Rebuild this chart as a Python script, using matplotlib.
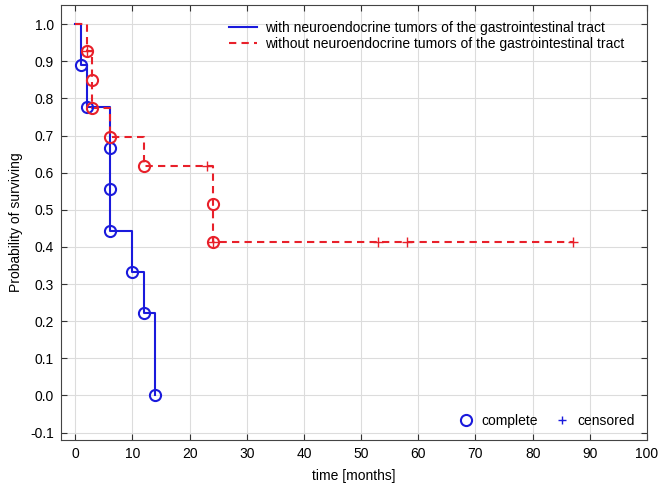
import numpy as np
import matplotlib.pyplot as plt
from matplotlib.lines import Line2D

plt.rcParams['font.family'] = ['Liberation Sans', 'DejaVu Sans']
plt.rcParams['font.size'] = 10

# step curves (Kaplan-Meier)
with_t = [0, 1, 2, 6, 10, 12, 14]
with_s = [1.0, 0.889, 0.778, 0.444, 0.333, 0.222, 0.0]
without_t = [0, 2, 3, 6, 12, 24, 87]
without_s = [1.0, 0.929, 0.774, 0.697, 0.619, 0.413, 0.413]

# complete (event) points
with_ev_t = [1, 2, 6, 6, 6, 10, 12, 14]
with_ev_s = [0.889, 0.778, 0.667, 0.556, 0.444, 0.333, 0.222, 0.0]
without_ev_t = [2, 3, 3, 6, 12, 24, 24]
without_ev_s = [0.929, 0.851, 0.774, 0.697, 0.619, 0.516, 0.413]

# censored points
without_c_t = [2, 23, 24, 53, 58, 87]
without_c_s = [0.929, 0.619, 0.413, 0.413, 0.413, 0.413]

blue = '#1a1adc'
red = '#e8202a'

fig = plt.figure(figsize=(6.61, 4.90), dpi=100)
ax = fig.add_axes([0.0923, 0.102, 0.8865, 0.888])

ax.step(with_t, with_s, where='post', color=blue, lw=1.5)
ax.step(without_t, without_s, where='post', color=red, lw=1.5, dashes=(3.5, 2.5))

ax.plot(with_ev_t, with_ev_s, 'o', ms=8, mfc='none', mec=blue, mew=1.5, ls='none')
ax.plot(without_ev_t, without_ev_s, 'o', ms=8, mfc='none', mec=red, mew=1.5, ls='none')
ax.plot(without_c_t, without_c_s, '+', ms=7, mec=red, mew=1.0, ls='none')

ax.set_xlim(-2.5, 100)
ax.set_ylim(-0.12, 1.052)
ax.set_xticks(np.arange(0, 101, 10))
yt = np.round(np.arange(-0.1, 1.01, 0.1), 1)
ax.set_yticks(yt)
ax.set_yticklabels(['%.1f' % v for v in yt])
ax.grid(True, color='#dcdcdc', lw=0.8)
ax.set_axisbelow(True)
ax.tick_params(direction='in', top=True, right=True, length=4, color='#333333', pad=5)
for s in ax.spines.values():
    s.set_color('#444444')

ax.set_xlabel('time [months]', labelpad=6)
ax.set_ylabel('Probability of surviving', labelpad=5)

leg1 = ax.legend([Line2D([], [], color=blue, lw=1.5),
                  Line2D([], [], color=red, lw=1.5, dashes=(3.5, 2.5))],
                 ['with neuroendocrine tumors of the gastrointestinal tract',
                  'without neuroendocrine tumors of the gastrointestinal tract'],
                 loc='upper right', frameon=False, handlelength=2.0,
                 handletextpad=0.6, labelspacing=0.15, borderaxespad=0.6,
                 bbox_to_anchor=(0.985, 0.995))
ax.add_artist(leg1)
ax.legend([Line2D([], [], marker='o', ms=8, mfc='none', mec=blue, mew=1.5, ls='none'),
           Line2D([], [], marker='+', ms=6, mec=blue, mew=1.0, ls='none')],
          ['complete', 'censored'], loc='lower right', ncol=2, frameon=False,
          handlelength=1.0, handletextpad=0.6, columnspacing=1.2,
          bbox_to_anchor=(1.0, 0.0))

fig.savefig('out.png', dpi=100)
